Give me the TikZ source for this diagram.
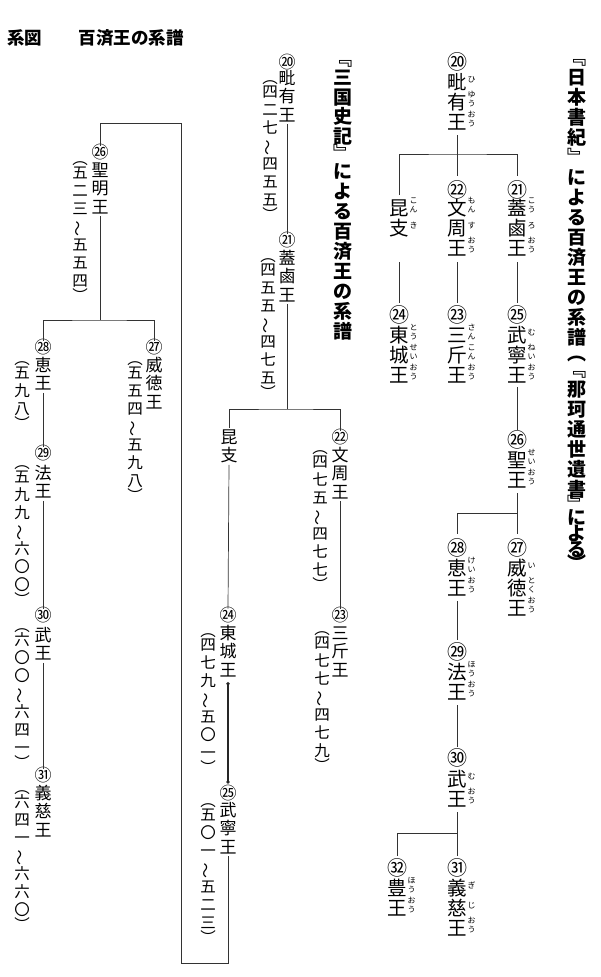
\documentclass[tikz,border=0pt]{standalone}
\usepackage{fontspec}
\setmainfont{Noto Sans CJK JP}
\usepackage{graphicx}
\usetikzlibrary{arrows.meta}
\makeatletter
\def\cLP{︵}\def\cRP{︶}\def\cTL{～}
\newcommand\vcell[2]{\vbox to #1{\vss\hbox to 1em{\hss\vrule width 0pt height .88em depth .12em\smash{#2}\hss}\vss}}
\newcommand\vrun[2]{\expandafter\@tfor\expandafter\vx\expandafter:\expandafter=#2\do{%
  \ifx\vx\cLP\vcell{0.6\dimexpr#1\relax}{︵}%
  \else\ifx\vx\cRP\vcell{0.6\dimexpr#1\relax}{︶}%
  \else\ifx\vx\cTL\vcell{#1}{\rotatebox[origin=c]{90}{～}}%
  \else\vcell{#1}{\vx}\fi\fi\fi}}
\newcommand\vstack[2]{\vbox{\offinterlineskip\vrun{#1}{#2}}}
\newcommand\rname[5]{%
  \foreach \kk/\ru [count=\ii from 0] in {#5}{%
    \edef\rr{\ru}%
    \node[nmR] (#1-\ii) at (#2,{#3+\ii*#4}) {\vstack{#4pt}{\kk}};
    \node[rbR] (#1-r\ii) at ({#2+14.5},{#3+\ii*#4-3}) {\vstack{8.6pt}{\rr}};
  }}
\makeatother
\tikzset{
  every node/.style={inner sep=0pt, outer sep=0pt},
  nmR/.style={font=\fontsize{19.5}{19.5}\selectfont},
  rbR/.style={font=\fontsize{8}{8}\selectfont},
  numR/.style={font=\fontsize{20}{20}\selectfont},
  nmL/.style={font=\fontsize{17}{17}\selectfont, anchor=north},
  numL/.style={font=\fontsize{17}{17}\selectfont},
  dt/.style={font=\fontsize{15.5}{15.5}\selectfont, anchor=north},
  vtitle/.style={font=\bfseries\fontsize{19}{19}\selectfont, anchor=north},
  toptitle/.style={font=\bfseries\fontsize{17.5}{17.5}\selectfont, anchor=west},
  ln/.style={draw=black!80, line width=0.7pt},
  thk/.style={draw=black!85, line width=1.5pt, {Circle[length=3pt]}-{Circle[length=3pt]}},
}
\begin{document}
\begin{tikzpicture}[x=1pt,y=-1pt]
\useasboundingbox (0,0) rectangle (600,977);
\fill[white] (0,0) rectangle (600,977);
% titles
\node[toptitle] (ttl) at (7,38) {系図\hspace{37pt}百済王の系譜};
\node[vtitle] (ttlR) at (577,47) {\vbox{\offinterlineskip
  \vrun{20pt}{﹃日本書紀﹄による百済王の系譜}\vcell{12pt}{︵}\vcell{20pt}{﹃}%
  \vrun{20pt}{那珂通世遺書}\vcell{10pt}{﹄}\vrun{16pt}{による}\vcell{12pt}{︶}}};
\node[vtitle] (ttlM) at (343,48) {\vbox{\offinterlineskip
  \vcell{20pt}{﹃}\vrun{19.5pt}{三国史記}\vcell{15pt}{﹄}\vrun{20pt}{による百済王の系譜}}};
% ---------- right tree (Nihon shoki) ----------
\rname{A}{457}{82}{20}{毗/ひ,有/ゆう,王/おう}
\rname{B}{399}{208}{20}{昆/こん,支/き}
\rname{C}{457}{208}{20}{文/もん,周/す,王/おう}
\rname{D}{517}{208}{20}{蓋/こう,鹵/ろ,王/おう}
\rname{E}{399}{335}{20}{東/とう,城/せい,王/おう}
\rname{F}{457}{335}{20}{三/さん,斤/こん,王/おう}
\rname{G}{517}{335}{20}{武/む,寧/ねい,王/おう}
\rname{H}{517}{460}{20}{聖/せい,王/おう}
\rname{I}{457}{568}{20}{恵/けい,王/おう}
\rname{J}{517}{568}{20}{威/い,徳/とく,王/おう}
\rname{K}{457}{672}{20}{法/ほう,王/おう}
\rname{L}{457}{779}{20}{武/む,王/おう}
\rname{M}{397}{888}{20}{豊/ほう,王/おう}
\rname{N}{457}{888}{20}{義/ぎ,慈/じ,王/おう}
\node[numR] (nA) at (457,62) {\vstack{15pt}{⑳}};
\node[numR] (nC) at (457,190) {\vstack{15pt}{㉒}};
\node[numR] (nD) at (517,190) {\vstack{15pt}{㉑}};
\node[numR] (nE) at (399,315) {\vstack{15pt}{㉔}};
\node[numR] (nF) at (457,315) {\vstack{15pt}{㉓}};
\node[numR] (nG) at (517,315) {\vstack{15pt}{㉕}};
\node[numR] (nH) at (517,440) {\vstack{15pt}{㉖}};
\node[numR] (nI) at (457,548) {\vstack{15pt}{㉘}};
\node[numR] (nJ) at (517,548) {\vstack{15pt}{㉗}};
\node[numR] (nK) at (457,652) {\vstack{15pt}{㉙}};
\node[numR] (nL) at (457,758) {\vstack{15pt}{㉚}};
\node[numR] (nM) at (397,868) {\vstack{15pt}{㉜}};
\node[numR] (nN) at (457,868) {\vstack{15pt}{㉛}};
\coordinate (jA) at (457,154);
\coordinate (jH) at (517,513);
\coordinate (jL) at (457,833);
\draw[ln,shorten <=3pt,shorten >=7pt] (A-2.south) -- (nC.north);
\draw[ln] ([yshift=3pt]B-0.north) |- (jA) -| ([yshift=7pt]nD.north);
\draw[ln,shorten <=24pt,shorten >=5pt] (B-1.south) -- (nE.north);
\draw[ln,shorten <=4pt,shorten >=5pt] (C-2.south) -- (nF.north);
\draw[ln,shorten <=4pt,shorten >=5pt] (D-2.south) -- (nG.north);
\draw[ln,shorten <=2pt,shorten >=3pt] (G-2.south) -- (nH.north);
\draw[ln,shorten <=3pt,shorten >=7pt] (H-1.south) -- (nJ.north);
\draw[ln] ([yshift=7pt]nI.north) |- (jH);
\draw[ln,shorten <=3pt,shorten >=5pt] (I-1.south) -- (nK.north);
\draw[ln,shorten <=3pt,shorten >=4pt] (K-1.south) -- (nL.north);
\draw[ln,shorten <=3pt,shorten >=5pt] (L-1.south) -- (nN.north);
\draw[ln] ([yshift=5pt]nM.north) |- (jL);
% ---------- middle tree (Samguk sagi) ----------
\node[numL] (m20) at (287,62) {\vstack{13pt}{⑳}};
\node[nmL] (m20n) at (287,68.75) {\vstack{18.5pt}{毗有王}};
\node[dt] (m20d) at (270,72.2) {\vstack{18pt}{︵四二七～四五五︶}};
\node[numL] (m21) at (287,240) {\vstack{13pt}{㉑}};
\node[nmL] (m21n) at (287,248.75) {\vstack{18.5pt}{蓋鹵王}};
\node[dt] (m21d) at (268,250.2) {\vstack{18pt}{︵四五五～四七五︶}};
\node[nmL] (kon) at (229,427.75) {\vstack{18.5pt}{昆支}};
\node[numL] (m22) at (340,437) {\vstack{13pt}{㉒}};
\node[nmL] (m22n) at (340,445.75) {\vstack{18.5pt}{文周王}};
\node[dt] (m22d) at (320,442.2) {\vstack{18pt}{︵四七五～四七七︶}};
\node[numL] (m23) at (340,615) {\vstack{13pt}{㉓}};
\node[nmL] (m23n) at (340,623.75) {\vstack{18.5pt}{三斤王}};
\node[dt] (m23d) at (322,623.2) {\vstack{18pt}{︵四七七～四七九︶}};
\node[numL] (m24) at (228,615) {\vstack{13pt}{㉔}};
\node[nmL] (m24n) at (228,623.75) {\vstack{18.5pt}{東城王}};
\node[dt] (m24d) at (208,625.2) {\vstack{18pt}{︵四七九～五〇一︶}};
\node[numL] (m25) at (228,793) {\vstack{13pt}{㉕}};
\node[nmL] (m25n) at (228,800.75) {\vstack{18.5pt}{武寧王}};
\node[dt] (m25d) at (208,795.2) {\vstack{18pt}{︵五〇一～五二三︶}};
\coordinate (mj) at (287,409);
\draw[ln] (m20n.south) -- (m21.north);
\draw[ln] (m21n.south) -- (mj);
\draw[ln] (kon.north) |- (mj) -| (m22.north);
\draw[ln] (kon.south) -- (m24.north);
\draw[ln] (m22n.south) -- (m23.north);
\draw[thk, shorten <=3pt, shorten >=3pt] (m24n.south) -- (m25.north);
% ---------- left tree ----------
\node[numL] (l26) at (100,152) {\vstack{13pt}{㉖}};
\node[nmL] (l26n) at (100,160.75) {\vstack{18.5pt}{聖明王}};
\node[dt] (l26d) at (80,153.2) {\vstack{18pt}{︵五二三～五五四︶}};
\node[numL] (l28) at (43,347) {\vstack{13pt}{㉘}};
\node[nmL] (l28n) at (43,355.75) {\vstack{18.5pt}{恵王}};
\node[dt] (l28d) at (22,353.2) {\vstack{18pt}{︵五九八︶}};
\node[numL] (l29) at (43,453) {\vstack{13pt}{㉙}};
\node[nmL] (l29n) at (43,463.75) {\vstack{18.5pt}{法王}};
\node[dt] (l29d) at (22,457.2) {\vstack{18pt}{︵五九九～六〇〇︶}};
\node[numL] (l30) at (43,615) {\vstack{13pt}{㉚}};
\node[nmL] (l30n) at (43,625.75) {\vstack{18.5pt}{武王}};
\node[dt] (l30d) at (22,620.2) {\vstack{18pt}{︵六〇〇～六四一︶}};
\node[numL] (l31) at (43,775) {\vstack{13pt}{㉛}};
\node[nmL] (l31n) at (43,783.75) {\vstack{18.5pt}{義慈王}};
\node[dt] (l31d) at (22,782.2) {\vstack{18pt}{︵六四一～六六〇︶}};
\node[numL] (l27) at (154,347) {\vstack{13pt}{㉗}};
\node[nmL] (l27n) at (154,355.75) {\vstack{18.5pt}{威徳王}};
\node[dt] (l27d) at (135,353.2) {\vstack{18pt}{︵五五四～五九八︶}};
\coordinate (lj) at (100,320);
\coordinate (b1) at (228,963);
\coordinate (b2) at (181,963);
\coordinate (b3) at (181,123);
\coordinate (b4) at (100,123);
\draw[ln] (m25n.south) -- (b1) -- (b2) -- (b3) -- (b4) -- (l26.north);
\draw[ln] (l26n.south) -- (lj);
\draw[ln] (l28.north) |- (lj) -| (l27.north);
\draw[ln] (l28n.south) -- (l29.north);
\draw[ln] (l29n.south) -- (l30.north);
\draw[ln] (l30n.south) -- (l31.north);
\end{tikzpicture}
\end{document}
